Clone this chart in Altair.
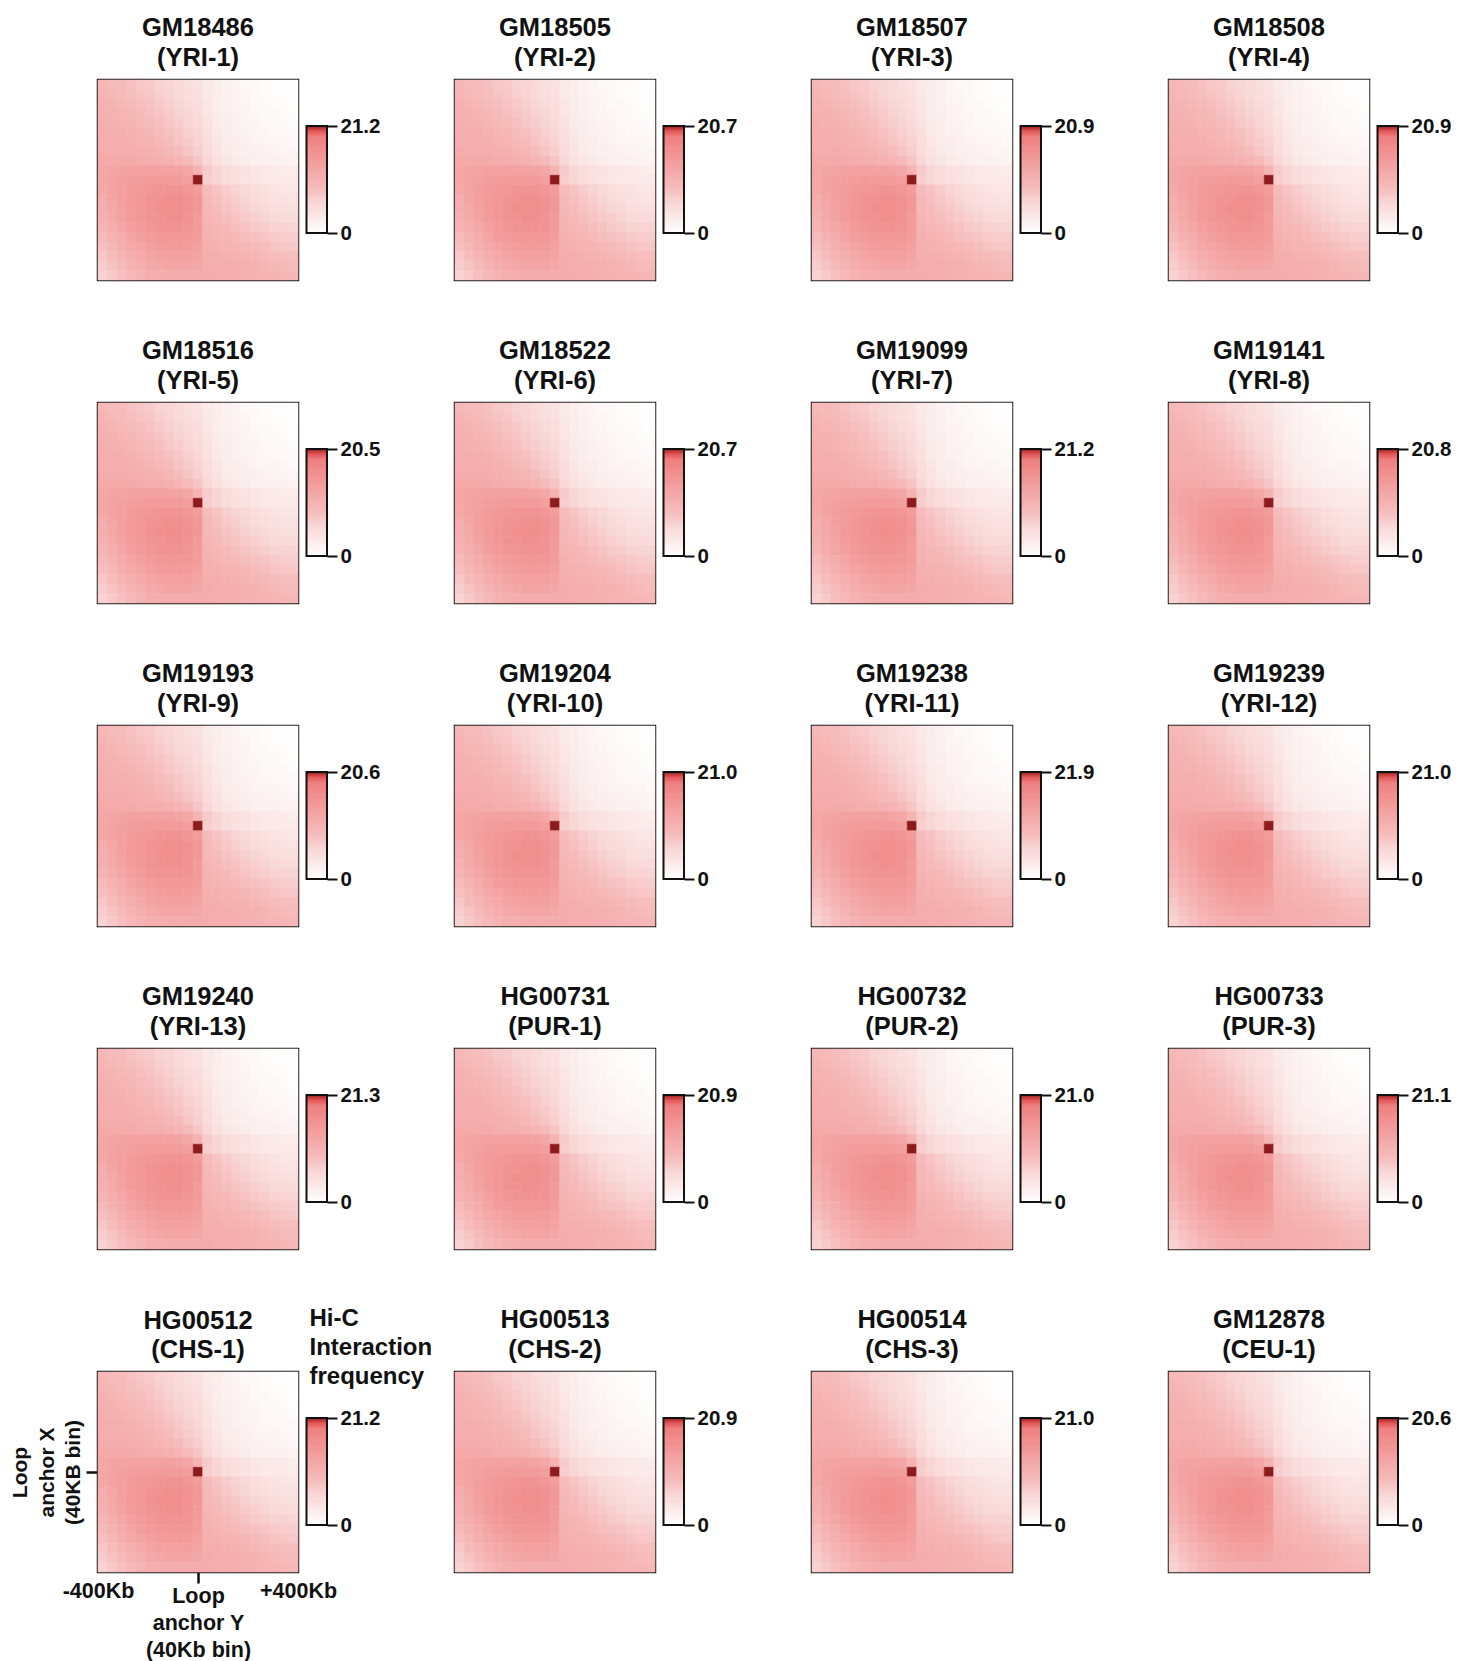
import altair as alt
import numpy as np
import pandas as pd

# ---------------- data ----------------
SAMPLES = ["GM18486", "GM18505", "GM18507", "GM18508",
           "GM18516", "GM18522", "GM19099", "GM19141",
           "GM19193", "GM19204", "GM19238", "GM19239",
           "GM19240", "HG00731", "HG00732", "HG00733",
           "HG00512", "HG00513", "HG00514", "GM12878"]
POPS = ["YRI-1", "YRI-2", "YRI-3", "YRI-4",
        "YRI-5", "YRI-6", "YRI-7", "YRI-8",
        "YRI-9", "YRI-10", "YRI-11", "YRI-12",
        "YRI-13", "PUR-1", "PUR-2", "PUR-3",
        "CHS-1", "CHS-2", "CHS-3", "CEU-1"]
VMAX = [21.2, 20.7, 20.9, 20.9,
        20.5, 20.7, 21.2, 20.8,
        20.6, 21.0, 21.9, 21.0,
        21.3, 20.9, 21.0, 21.1,
        21.2, 20.9, 21.0, 20.6]

# aggregate contact profile (% of each panel's maximum), 21 x 21 bins of 40 Kb,
# rows = loop anchor X (top = -400Kb), columns = loop anchor Y (left = -400Kb)
APA_PCT = [
    [45, 43, 42, 39, 36, 34, 30, 28, 25, 22, 20, 15, 12, 9, 7, 5, 4, 3, 2, 1, 1],
    [47, 45, 43, 41, 38, 36, 32, 29, 26, 23, 21, 16, 12, 10, 7, 6, 4, 3, 2, 1, 1],
    [49, 47, 45, 43, 41, 38, 35, 31, 28, 25, 23, 18, 13, 10, 8, 7, 5, 4, 3, 2, 1],
    [50, 49, 47, 45, 43, 40, 37, 34, 30, 27, 24, 18, 14, 11, 9, 7, 6, 4, 4, 3, 2],
    [51, 50, 49, 47, 45, 42, 40, 36, 33, 29, 26, 20, 15, 12, 10, 8, 7, 5, 4, 4, 3],
    [52, 52, 51, 49, 47, 45, 42, 39, 36, 31, 27, 21, 16, 12, 10, 9, 7, 6, 5, 4, 4],
    [53, 53, 52, 51, 49, 47, 45, 42, 38, 34, 30, 23, 18, 14, 12, 10, 8, 7, 7, 6, 5],
    [54, 54, 54, 53, 51, 50, 48, 45, 42, 37, 32, 24, 19, 15, 13, 11, 10, 9, 8, 7, 7],
    [56, 56, 56, 55, 54, 53, 52, 50, 47, 43, 37, 27, 21, 17, 15, 12, 11, 10, 10, 9, 8],
    [58, 60, 61, 62, 62, 62, 62, 62, 61, 58, 48, 34, 28, 24, 21, 19, 18, 16, 15, 14, 13],
    [58, 61, 63, 65, 66, 67, 68, 68, 67, 64, 100, 32, 28, 24, 21, 19, 18, 16, 15, 15, 15],
    [57, 61, 64, 67, 69, 71, 72, 73, 73, 71, 66, 42, 38, 33, 29, 26, 23, 21, 19, 18, 17],
    [54, 59, 64, 68, 71, 74, 75, 77, 77, 75, 70, 44, 40, 36, 32, 28, 25, 23, 21, 20, 19],
    [52, 57, 62, 67, 71, 74, 76, 77, 77, 75, 70, 45, 42, 38, 35, 31, 28, 26, 23, 22, 22],
    [50, 55, 61, 66, 70, 73, 75, 76, 76, 74, 68, 47, 44, 41, 38, 35, 32, 29, 26, 25, 25],
    [47, 53, 58, 63, 67, 71, 73, 74, 74, 72, 67, 48, 46, 44, 41, 38, 35, 33, 30, 29, 29],
    [43, 49, 54, 60, 65, 68, 70, 71, 71, 70, 66, 50, 48, 46, 44, 41, 39, 37, 35, 33, 33],
    [40, 45, 51, 56, 60, 63, 66, 67, 67, 66, 63, 51, 50, 48, 47, 45, 43, 41, 38, 36, 36],
    [36, 42, 47, 52, 56, 60, 62, 63, 63, 63, 61, 53, 52, 50, 49, 48, 46, 44, 42, 41, 41],
    [33, 38, 43, 48, 52, 56, 58, 60, 60, 60, 58, 54, 53, 52, 51, 50, 49, 47, 45, 43, 42],
    [30, 35, 40, 44, 48, 51, 53, 54, 54, 54, 54, 54, 53, 52, 51, 50, 49, 48, 47, 46, 45],
]
BIN_KB = 40
N_BINS = 21

COLOR_DOMAIN = [0, 13, 29, 44, 60, 90, 95, 98, 100]
COLOR_RANGE = ["#ffffff", "#fcecec", "#f9d4d4", "#f6b8b8", "#f4a4a4",
               "#ef7d7d", "#e55858", "#c33434", "#8e1b1b"]

AXIS_PANEL = 16  # HG00512 carries the axis annotations

# ---------------- layout / style ----------------
VIEW = 200
CB_LEFT = 208.5   # colour bar left, px from heatmap left
CB_W = 20.5
CB_TOP = 46       # colour bar top, px from heatmap top
CB_H = 107
FONT = "Liberation Sans"
INK = "#111111"
TITLE_OFFSET = 8.5
HIC_TITLE_Y = -47

half = (N_BINS // 2) * BIN_KB + BIN_KB / 2
heat_rows = []
for r in range(N_BINS):
    for c in range(N_BINS):
        cx = (c - N_BINS // 2) * BIN_KB
        cy = (r - N_BINS // 2) * BIN_KB
        heat_rows.append({"x0": cx - BIN_KB / 2, "x1": cx + BIN_KB / 2,
                          "y0": cy - BIN_KB / 2, "y1": cy + BIN_KB / 2,
                          "pct": APA_PCT[r][c]})
heat_df = pd.DataFrame(heat_rows)

color_scale = alt.Scale(domain=COLOR_DOMAIN, range=COLOR_RANGE, interpolate="rgb")


def make_panel(i):
    name, pop, vmax = SAMPLES[i], POPS[i], VMAX[i]
    with_axes = i == AXIS_PANEL

    if with_axes:
        x_axis = alt.Axis(
            values=[-half, 0, half],
            labelExpr="datum.value == 0 ? ['Loop', 'anchor Y', '(40Kb bin)'] : "
                      "(datum.value < 0 ? '-400Kb' : '+400Kb')",
            tickSize=11, tickWidth=2.5, tickColor=INK,
            tickOpacity={"condition": {"test": "datum.value == 0", "value": 1}, "value": 0},
            labelPadding={"condition": {"test": "datum.value == 0", "value": 2}, "value": -3},
            domain=False, grid=False, title=None,
            labelFont=FONT, labelFontSize=21.5, labelFontWeight="bold", labelColor=INK,
            labelFlush=False, labelOverlap=False, labelLineHeight=27,
        )
        y_axis = alt.Axis(
            values=[0], labels=False, tickSize=12, tickWidth=2.5, tickColor=INK,
            domain=False, grid=False,
            title=["Loop", "anchor X", "(40KB bin)"],
            titleFont=FONT, titleFontSize=21, titleFontWeight="bold", titleColor=INK,
            titleLineHeight=26.5, titlePadding=1,
        )
    else:
        x_axis = None
        y_axis = None

    heat = alt.Chart(heat_df).mark_rect(strokeWidth=0.6).encode(
        x=alt.X("x0:Q", scale=alt.Scale(domain=[-half, half], nice=False, zero=False), axis=x_axis),
        x2="x1:Q",
        y=alt.Y("y0:Q", scale=alt.Scale(domain=[-half, half], reverse=True, nice=False, zero=False),
                axis=y_axis),
        y2="y1:Q",
        color=alt.Color("pct:Q", scale=color_scale, legend=None),
        stroke=alt.Stroke("pct:Q", scale=color_scale, legend=None),
    )

    # colour bar, drawn through its own scales next to the heatmap
    n = 120
    steps = np.arange(n)
    cb_df = pd.DataFrame({
        "pct": (steps + 0.5) * 100 / n,
        "v0": steps * vmax / n,
        "v1": (steps + 1) * vmax / n,
        "b0": 0.0, "b1": 1.0,
    })
    out_df = pd.DataFrame({"v0": [0.0], "v1": [vmax], "b0": [0.0], "b1": [1.0]})

    px_per_unit = CB_H / vmax
    lo = -(VIEW - CB_TOP - CB_H) / px_per_unit
    hi = lo + VIEW / px_per_unit
    cb_x = alt.Scale(domain=[-CB_LEFT / CB_W, (VIEW - CB_LEFT) / CB_W], nice=False, zero=False)
    cb_y = alt.Scale(domain=[lo, hi], nice=False, zero=False)

    cb_axis_kw = dict(
        orient="right", offset=CB_LEFT + CB_W - VIEW,
        values=[0, vmax],
        labelExpr=f"datum.value == 0 ? '0' : '{vmax:.1f}'",
        domain=False, grid=False, tickSize=10, tickWidth=2, tickColor=INK,
        labelFont=FONT, labelFontSize=20.5, labelFontWeight="bold", labelColor=INK,
        labelPadding=3, labelOverlap=False,
    )
    title_offset = TITLE_OFFSET
    if with_axes:
        cb_axis_kw.update(
            title=["Hi-C", "Interaction", "frequency"],
            titleAngle=0, titleAlign="left", titleBaseline="alphabetic",
            titleX=-18, titleY=HIC_TITLE_Y, titleFont=FONT, titleFontSize=24,
            titleFontWeight="bold", titleColor=INK, titleLineHeight=29,
        )
        # the legend title above the colour bar would push the panel title up
        title_offset = TITLE_OFFSET + HIC_TITLE_Y - 19
    else:
        cb_axis_kw.update(title=None)

    grad = alt.Chart(cb_df).mark_rect(strokeWidth=0.6).encode(
        x=alt.X("b0:Q", scale=cb_x, axis=None), x2="b1:Q",
        y=alt.Y("v0:Q", scale=cb_y, axis=alt.Axis(**cb_axis_kw)), y2="v1:Q",
        color=alt.Color("pct:Q", scale=color_scale, legend=None),
        stroke=alt.Stroke("pct:Q", scale=color_scale, legend=None),
    )
    outline = alt.Chart(out_df).mark_rect(fill="transparent", stroke=INK, strokeWidth=2).encode(
        x=alt.X("b0:Q", scale=cb_x, axis=None), x2="b1:Q",
        y=alt.Y("v0:Q", scale=cb_y, axis=None), y2="v1:Q",
    )

    return alt.layer(heat, grad, outline).resolve_scale(
        x="independent", y="independent"
    ).properties(
        width=VIEW, height=VIEW,
        title=alt.TitleParams(
            text=[name, f"({pop})"], font=FONT, fontSize=25.5, fontWeight="bold",
            color=INK, lineHeight=29.5, offset=title_offset, anchor="middle", frame="group",
        ),
    )


panels = [make_panel(i) for i in range(len(SAMPLES))]

chart = alt.concat(
    *panels, columns=4, spacing={"row": 123, "column": 157}, bounds="flush"
).configure_view(
    stroke="#1a1a1a", strokeWidth=2.5
).properties(
    background="white",
    padding={"left": 0, "top": 6, "right": 5, "bottom": 2},
)

chart.save("out.html", embed_options={"renderer": "svg", "actions": False})
